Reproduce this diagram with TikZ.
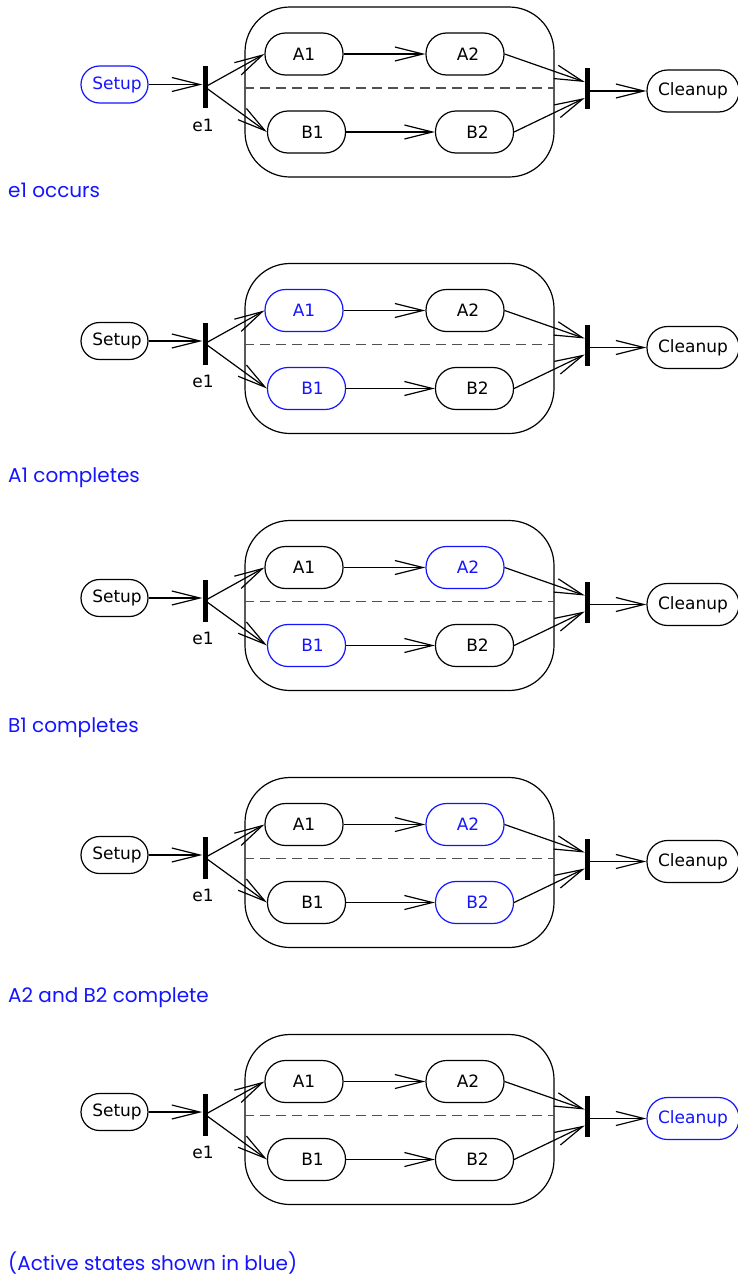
\documentclass[tikz,border=0pt]{standalone}
\usepackage{fontspec}
\setmainfont{DejaVu Sans}
\newfontfamily\capfont{Poppins}
\usetikzlibrary{arrows.meta,calc}
\definecolor{act}{RGB}{20,20,255}
\definecolor{dashgray}{RGB}{80,80,80}
\tikzset{
  st/.style={draw, rounded corners=20.5pt, minimum width=78pt, minimum height=42pt,
    inner sep=0pt, font=\fontsize{17}{20}\selectfont, line width=1.2pt},
  forkbar/.style={fill=black, draw=none, minimum width=5pt, minimum height=42pt, inner sep=0pt},
  tr/.style={line width=1.2pt, -{Straight Barb[length=28pt,width=14pt,line width=1.2pt]}},
  comp/.style={draw, rounded corners=45pt, line width=1.2pt, inner sep=0pt},
  dashline/.style={draw=dashgray, line width=1.2pt, dash pattern=on 10pt off 6pt},
  evlabel/.style={font=\fontsize{17}{20}\selectfont, inner sep=0pt},
  captext/.style={font=\capfont\fontsize{20}{24}\selectfont, text=act, anchor=west, inner sep=0pt},
}
\newcommand\drawpanel[8]{%
\begin{scope}[shift={(0,#2)}]
  \node[comp, minimum width=309pt, minimum height=170pt] (c-#1) at (399.5,92) {};
  \draw[dashline] ([yshift=4pt]c-#1.west) -- ([yshift=4pt]c-#1.east);
  \node[st, draw=#3, text=#3, minimum width=67pt, minimum height=37pt, rounded corners=18.5pt] (s-#1) at (114.5,84.5) {\hspace{5pt}Setup};
  \node[forkbar] (f-#1) at (205,87) {};
  \node[evlabel] (e-#1) at (203,125) {e1};
  \node[st, draw=#4, text=#4] (aa-#1) at (304,54) {A1};
  \node[st, draw=#5, text=#5] (ba-#1) at (306.5,132) {\hspace{12pt}B1};
  \node[st, draw=#6, text=#6] (ab-#1) at (465,54) {\hspace{6pt}A2};
  \node[st, draw=#7, text=#7] (bb-#1) at (474.5,132) {\hspace{6pt}B2};
  \node[forkbar, minimum height=41pt] (j-#1) at (587.5,88.5) {};
  \node[st, draw=#8, text=#8, minimum width=92pt] (cl-#1) at (693,91) {Cleanup};
  \draw[tr] (s-#1.east) -- (f-#1.west |- s-#1.east);
  \draw[tr] (f-#1.center) -- (aa-#1.west);
  \draw[tr] (f-#1.center) -- (ba-#1.west);
  \draw[tr] (aa-#1.east) -- (ab-#1.west);
  \draw[tr] (ba-#1.east) -- (bb-#1.west);
  \draw[tr] (ab-#1.east) -- ([yshift=6.5pt]j-#1.west);
  \draw[tr] (bb-#1.east) -- ([yshift=-9.5pt]j-#1.west);
  \draw[tr] (j-#1.east |- cl-#1.west) -- (cl-#1.west);
\end{scope}}
\begin{document}
\begin{tikzpicture}[x=1pt,y=-1pt]
  \useasboundingbox (0,0) rectangle (737,1277);
  \drawpanel{1}{0}{act}{black}{black}{black}{black}{black}
  \drawpanel{2}{256.5}{black}{act}{act}{black}{black}{black}
  \drawpanel{3}{513.5}{black}{black}{act}{act}{black}{black}
  \drawpanel{4}{770.5}{black}{black}{black}{act}{act}{black}
  \drawpanel{5}{1027.5}{black}{black}{black}{black}{black}{act}
  \node[captext] (t1) at (8,190) {e1 occurs};
  \node[captext] (t2) at (8,478) {A1 completes};
  \node[captext] (t3) at (8,728) {B1 completes};
  \node[captext] (t4) at (8,998) {A2 and B2 complete};
  \node[captext] (t5) at (8,1263) {(Active states shown in blue)};
\end{tikzpicture}
\end{document}
